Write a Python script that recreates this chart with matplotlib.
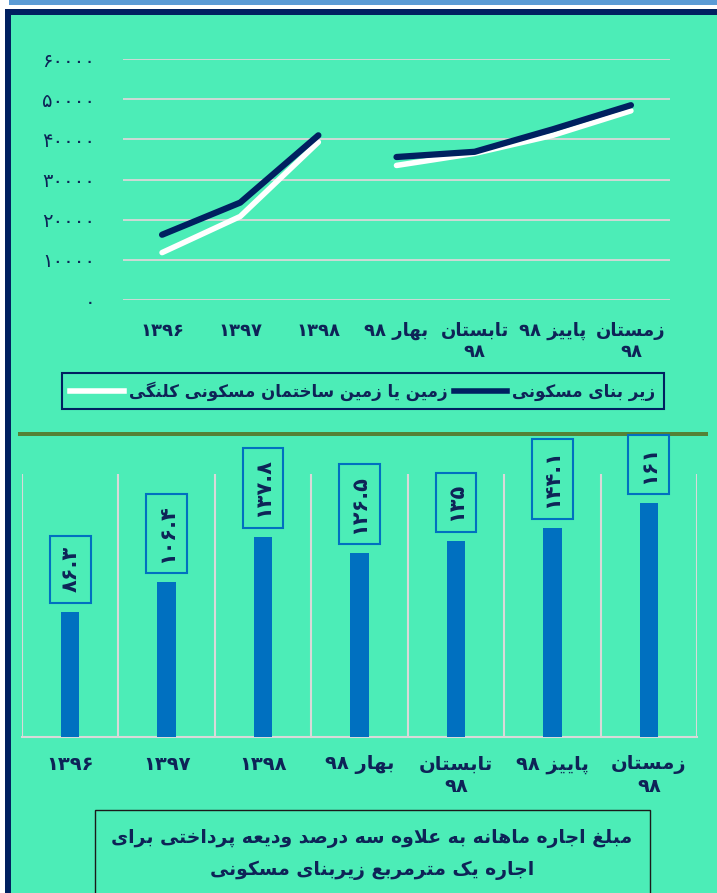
import matplotlib
matplotlib.use('Agg')
import matplotlib.pyplot as plt
from matplotlib.patches import Rectangle
from matplotlib.lines import Line2D
from matplotlib.ticker import FuncFormatter
import numpy as np

plt.rcParams['font.family'] = ['DejaVu Sans']

# ---- data ----
categories = ['۱۳۹۶', '۱۳۹۷', '۱۳۹۸', 'بهار ۹۸', 'تابستان\n۹۸', 'پاییز ۹۸', 'زمستان\n۹۸']
price_residential = [16250, 24250, 41000, 35600, 36900, 42500, 48500]   # زیر بنای مسکونی
price_land = [11800, 20800, 39300, 33500, 36500, 41000, 47100]          # زمین یا زمین ساختمان مسکونی کلنگی
rent_per_m2 = [86.3, 106.4, 137.8, 126.5, 135, 144.1, 161]
y_ticks = [0, 10000, 20000, 30000, 40000, 50000, 60000]

label_residential = 'زیر بنای مسکونی'
label_land = 'زمین یا زمین ساختمان مسکونی کلنگی'
title_lines = ['مبلغ اجاره ماهانه به علاوه سه درصد ودیعه پرداختی برای',
               'اجاره یک مترمربع زیربنای مسکونی']

W, H = 717, 893
BG = '#4CEDB7'
NAVY = '#002060'
TXT = '#0E2357'
BLUE = '#0070C0'
GRID = '#D9D9D9'

# ---- minimal Persian shaping (matplotlib has no bidi / joining) ----
# isolated, final, initial, medial  (0 = letter does not join forward)
FORMS = {
    'ا': (0xFE8D, 0xFE8E, 0, 0), 'آ': (0xFE81, 0xFE82, 0, 0),
    'ب': (0xFE8F, 0xFE90, 0xFE91, 0xFE92), 'پ': (0xFB56, 0xFB57, 0xFB58, 0xFB59),
    'ت': (0xFE95, 0xFE96, 0xFE97, 0xFE98), 'ث': (0xFE99, 0xFE9A, 0xFE9B, 0xFE9C),
    'ج': (0xFE9D, 0xFE9E, 0xFE9F, 0xFEA0), 'چ': (0xFB7A, 0xFB7B, 0xFB7C, 0xFB7D),
    'ح': (0xFEA1, 0xFEA2, 0xFEA3, 0xFEA4), 'خ': (0xFEA5, 0xFEA6, 0xFEA7, 0xFEA8),
    'د': (0xFEA9, 0xFEAA, 0, 0), 'ذ': (0xFEAB, 0xFEAC, 0, 0),
    'ر': (0xFEAD, 0xFEAE, 0, 0), 'ز': (0xFEAF, 0xFEB0, 0, 0), 'ژ': (0xFB8A, 0xFB8B, 0, 0),
    'س': (0xFEB1, 0xFEB2, 0xFEB3, 0xFEB4), 'ش': (0xFEB5, 0xFEB6, 0xFEB7, 0xFEB8),
    'ص': (0xFEB9, 0xFEBA, 0xFEBB, 0xFEBC), 'ض': (0xFEBD, 0xFEBE, 0xFEBF, 0xFEC0),
    'ط': (0xFEC1, 0xFEC2, 0xFEC3, 0xFEC4), 'ظ': (0xFEC5, 0xFEC6, 0xFEC7, 0xFEC8),
    'ع': (0xFEC9, 0xFECA, 0xFECB, 0xFECC), 'غ': (0xFECD, 0xFECE, 0xFECF, 0xFED0),
    'ف': (0xFED1, 0xFED2, 0xFED3, 0xFED4), 'ق': (0xFED5, 0xFED6, 0xFED7, 0xFED8),
    'ک': (0xFB8E, 0xFB8F, 0xFB90, 0xFB91), 'گ': (0xFB92, 0xFB93, 0xFB94, 0xFB95),
    'ل': (0xFEDD, 0xFEDE, 0xFEDF, 0xFEE0), 'م': (0xFEE1, 0xFEE2, 0xFEE3, 0xFEE4),
    'ن': (0xFEE5, 0xFEE6, 0xFEE7, 0xFEE8), 'و': (0xFEED, 0xFEEE, 0, 0),
    'ه': (0xFEE9, 0xFEEA, 0xFEEB, 0xFEEC), 'ی': (0xFBFC, 0xFBFD, 0xFBFE, 0xFBFF),
}
LAM_ALEF = {'ا': (0xFEFB, 0xFEFC), 'آ': (0xFEF5, 0xFEF6)}
DIGITS = set('0123456789۰۱۲۳۴۵۶۷۸۹.')


def shape_line(s):
    out = []
    i, n = 0, len(s)
    while i < n:
        c = s[i]
        if c not in FORMS:
            out.append(c)
            i += 1
            continue
        prev = s[i - 1] if i > 0 else ''
        join_prev = prev in FORMS and FORMS[prev][2] != 0
        if c == 'ل' and i + 1 < n and s[i + 1] in LAM_ALEF:
            iso, fin = LAM_ALEF[s[i + 1]]
            out.append(chr(fin if join_prev else iso))
            i += 2
            continue
        nxt = s[i + 1] if i + 1 < n else ''
        join_next = nxt in FORMS and FORMS[c][2] != 0
        iso, fin, ini, med = FORMS[c]
        if join_prev and join_next:
            code = med
        elif join_prev:
            code = fin
        elif join_next:
            code = ini
        else:
            code = iso
        out.append(chr(code))
        i += 1
    # visual order: right to left, digit runs stay left to right
    runs = []
    for ch in out:
        d = ch in DIGITS
        if runs and runs[-1][0] == d:
            runs[-1][1].append(ch)
        else:
            runs.append([d, [ch]])
    return ''.join(''.join(chs if d else chs[::-1]) for d, chs in runs[::-1])


def fa(s):
    return '\n'.join(shape_line(line) for line in s.split('\n'))


def fa_num(s):
    return s.translate(str.maketrans('0123456789', '۰۱۲۳۴۵۶۷۸۹'))


def frac(x0, y0, x1, y1):
    return [x0 / W, 1 - y1 / H, (x1 - x0) / W, (y1 - y0) / H]


fig = plt.figure(figsize=(W / 100, H / 100), dpi=100)
fig.patch.set_facecolor('white')


def rect(x0, y0, x1, y1, **kw):
    fig.add_artist(Rectangle((x0 / W, 1 - y1 / H), (x1 - x0) / W, (y1 - y0) / H,
                             transform=fig.transFigure, **kw))


# page frame
rect(9, 0, 720, 5, fc='#5B9BD5', ec='none', zorder=-5)
rect(5, 9, 730, 920, fc=NAVY, ec='none', zorder=-5)
rect(11, 15, 730, 920, fc=BG, ec='none', zorder=-4)
rect(18, 432, 708, 436, fc='#548235', ec='none', zorder=-3)

x = np.arange(len(categories))

# =========== line chart ===========
ax1 = fig.add_axes(frac(123, 59, 670, 300))
ax1.set_facecolor('none')
ax1.plot(x[:3], price_land[:3], color='white', lw=4, solid_capstyle='round', zorder=3)
ax1.plot(x[3:], price_land[3:], color='white', lw=4, solid_capstyle='round', zorder=3)
ax1.plot(x[:3], price_residential[:3], color=NAVY, lw=4.5, solid_capstyle='round', zorder=4)
ax1.plot(x[3:], price_residential[3:], color=NAVY, lw=4.5, solid_capstyle='round', zorder=4)
ax1.set_xlim(-0.5, len(categories) - 0.5)
ax1.set_ylim(0, 60000)
ax1.set_yticks(y_ticks)
ax1.yaxis.set_major_formatter(FuncFormatter(lambda v, p: fa_num(str(int(v)))))
ax1.set_xticks(x, [fa(c) for c in categories])
ax1.grid(axis='y', color=GRID, lw=1.3)
ax1.set_axisbelow(True)
for s in ax1.spines.values():
    s.set_visible(False)
ax1.tick_params(axis='y', length=0, pad=20, labelsize=14, labelcolor=TXT)
ax1.tick_params(axis='x', length=0, pad=16, labelsize=13, labelcolor=TXT)
for t in ax1.get_xticklabels():
    t.set_fontweight('bold')
    t.set_verticalalignment('top')

handles = [Line2D([], [], color='white', lw=4), Line2D([], [], color=NAVY, lw=4)]
leg = fig.legend(handles, [fa(label_land), fa(label_residential)], ncol=2,
                 loc='center', bbox_to_anchor=(363 / W, 1 - 391 / H),
                 frameon=True, fancybox=False, edgecolor=NAVY, facecolor=BG,
                 framealpha=1, prop=dict(weight='bold', size=12), labelcolor=TXT,
                 handlelength=3.2, handletextpad=0.3, columnspacing=0.4,
                 borderpad=0.5)
leg.get_frame().set_linewidth(1.5)

# =========== bar chart ===========
ax2 = fig.add_axes(frac(22, 474, 697, 737))
ax2.set_facecolor('none')
ax2.bar(x, rent_per_m2, width=0.19, color=BLUE, zorder=3)
ax2.set_xlim(-0.5, len(categories) - 0.5)
ax2.set_ylim(0, 181)
ax2.set_yticks([])
ax2.set_xticks(x, [fa(c) for c in categories])
ax2.set_xticks(np.arange(-0.5, len(categories)), minor=True)
ax2.grid(axis='x', which='minor', color=GRID, lw=1.5)
ax2.grid(axis='x', which='major', visible=False)
for s in ['top', 'left', 'right']:
    ax2.spines[s].set_visible(False)
ax2.spines['bottom'].set_color(GRID)
ax2.spines['bottom'].set_linewidth(1.5)
ax2.tick_params(axis='x', which='both', length=0)
ax2.tick_params(axis='x', which='major', pad=13, labelsize=14, labelcolor=TXT)
for t in ax2.get_xticklabels():
    t.set_verticalalignment('top')
    t.set_fontweight('bold')

for xi, v in zip(x, rent_per_m2):
    ax2.annotate(fa_num(f'{v:g}'), (xi, v), xytext=(0, 14), textcoords='offset points',
                 rotation=90, ha='center', va='bottom', fontsize=15, fontweight='bold',
                 color=TXT, annotation_clip=False,
                 bbox=dict(boxstyle='square,pad=0.5', fc=BG, ec=BLUE, lw=1.5))

# =========== caption box ===========
rect(95, 810, 650, 920, fc='none', ec='#1A1A1A', lw=1)
fig.text(372 / W, 1 - 854 / H, '\n'.join(fa(l) for l in title_lines),
         ha='center', va='center', fontsize=13.5, fontweight='bold', color=TXT,
         linespacing=1.8)

fig.savefig('out.png', dpi=100, facecolor=fig.get_facecolor())
